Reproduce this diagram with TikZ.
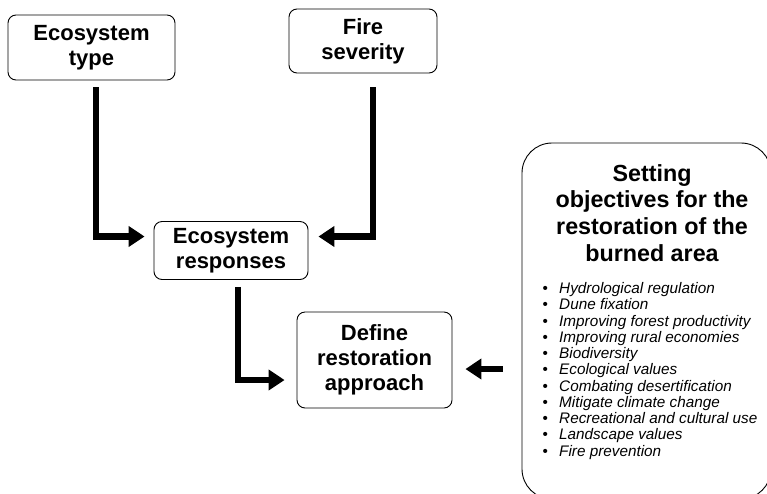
\documentclass[tikz,border=0pt]{standalone}
\usepackage{fontspec}
\setmainfont{Liberation Sans}
\usetikzlibrary{arrows.meta}
\newcommand{\itm}[1]{\makebox[16.7pt][l]{\upshape\textbullet}#1\\}
\begin{document}
\begin{tikzpicture}[x=1pt,y=-1pt,
  box/.style={draw, rounded corners=8pt, line width=0.9pt, align=center,
    font=\fontsize{22}{25}\selectfont\bfseries, inner sep=0pt},
  arr/.style={line width=6.8pt, line join=miter,
    -{Triangle[length=16pt,width=20pt]}}]
\useasboundingbox (0,0) rectangle (767,493);
\node[box, minimum width=167pt, minimum height=65pt] (et) at (91.5,47.5) {Ecosystem\\type};
\node[box, minimum width=148pt, minimum height=64pt] (fs) at (363,41) {Fire\\severity};
\node[box, minimum width=154pt, minimum height=58pt] (er) at (231,250.5) {Ecosystem\\responses};
\node[box, minimum width=155pt, minimum height=96pt] (dr) at (374.5,360) {Define\\restoration\\approach};
\node[draw, rounded corners=30pt, line width=0.9pt, inner sep=0pt,
  minimum width=249pt, minimum height=356pt] (so) at (646.5,321) {};
\node[align=center, inner sep=0pt, font=\fontsize{23.3}{26.7}\selectfont\bfseries]
  (sot) at (652,213) {Setting\\objectives for the\\restoration of the\\burned area};
\node[anchor=west, align=left, inner sep=0pt, font=\fontsize{15.3}{16.25}\selectfont\itshape]
  (sol) at (542.3,371) {\itm{Hydrological regulation}\itm{Dune fixation}\itm{Improving forest productivity}\itm{Improving rural economies}\itm{Biodiversity}\itm{Ecological values}\itm{Combating desertification}\itm{Mitigate climate change}\itm{Recreational and cultural use}\itm{Landscape values}\makebox[16.7pt][l]{\upshape\textbullet}Fire prevention};
\draw[arr] ([xshift=4.5pt,yshift=-7pt]et.south) |- ([xshift=-9pt,yshift=14pt]er.west);
\draw[arr] ([xshift=10pt,yshift=-14pt]fs.south) |- ([xshift=10pt,yshift=14pt]er.east);
\draw[arr] ([xshift=7pt,yshift=-7pt]er.south) |- ([xshift=-12pt,yshift=-20pt]dr.west);
\coordinate (a) at ([yshift=-9pt]dr.east);
\coordinate (b) at (a -| so.west);
\draw[arr] ([xshift=-19pt]b) -- ([xshift=13pt]a);
\end{tikzpicture}
\end{document}
